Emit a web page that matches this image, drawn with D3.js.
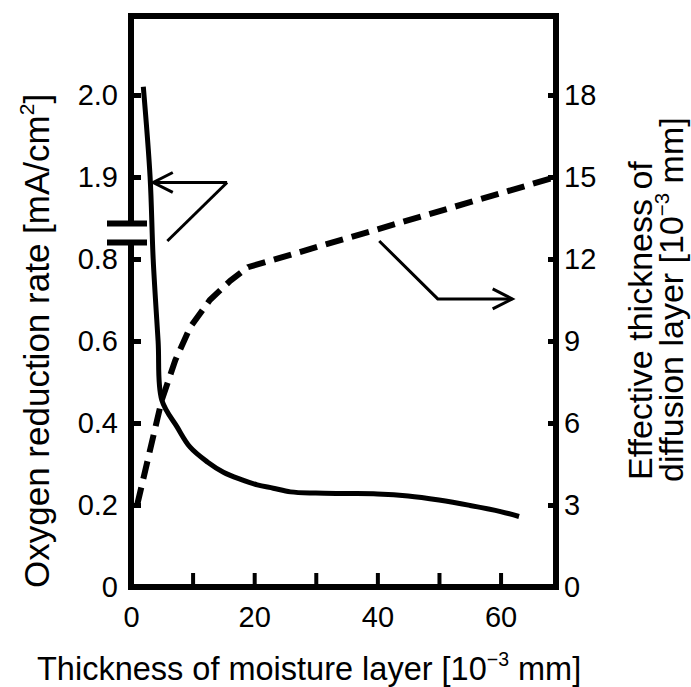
<!DOCTYPE html>
<html>
<head>
<meta charset="utf-8">
<script src="https://cdn.jsdelivr.net/npm/d3@7"></script>
<style>
  html, body { margin: 0; padding: 0; background: #fff; }
  svg { display: block; }
  text { font-family: "Liberation Sans", Arial, sans-serif; fill: #000; }
</style>
</head>
<body>
<svg id="chart" width="691" height="687"></svg>
<script>
// Oxygen reduction rate [mA/cm2] (left axis, solid) and effective thickness of the
// diffusion layer [10^-3 mm] (right axis, dashed) against moisture layer thickness.
const rateX = [2.0, 3.1, 3.6, 4.4, 5.0, 7.5, 9.6, 12.4, 15.0, 17.7, 20.5, 23.1, 25.9, 30, 35, 40, 45, 50, 55, 60, 63];
const rateY = [2.01, 1.9, 0.8, 0.6, 0.456, 0.39, 0.341, 0.305, 0.28, 0.263, 0.249, 0.241, 0.232, 0.229, 0.228, 0.227, 0.222, 0.212, 0.199, 0.184, 0.172];
const thickX = [1.0, 5.0, 7.2, 9.6, 12.8, 16.1, 19.0, 69];
const thickY = [3.0, 6.84, 8.3, 9.5, 10.5, 11.2, 11.7, 15.0];

const xTicks = [0, 10, 20, 30, 40, 50, 60];
const xTickLabels = [0, 20, 40, 60];
const leftTicks = [0, 0.2, 0.4, 0.6, 0.8, 1.9, 2.0];
const rightTicks = [0, 3, 6, 9, 12, 15, 18];

// Pointer arrows, in (x, right-axis) units: first one points at the solid curve, second at the right axis
const arrowToRate = [[15.6, 14.8], [3.6, 14.8]];
const arrowToRateTail = [[5.9, 12.66], [15.6, 14.8]];
const arrowToThick = [[40.3, 12.66], [49.8, 10.54], [61.9, 10.54]];

const svg = d3.select("#chart");
const frameTop = 16;

const x = d3.scaleLinear().domain([0, 69]).range([131, 556]);
const yR = d3.scaleLinear().domain([0, 18]).range([587, 95]);
// Left axis is broken between 0.8 and 1.9
const yL = d3.scaleLinear().domain([0, 0.8, 1.9, 2.0]).range([yR(0), yR(12), yR(15), yR(18)]);

const x0 = x.range()[0], x1 = x.range()[1], yBottom = yR(0);
const breakMid = yR(12.95), breakHalf = 9.5;

// Frame with a gap in the left axis at the break
svg.append("path")
  .attr("d", `M${x0},${breakMid - breakHalf} V${frameTop} H${x1} V${yBottom} H${x0} V${breakMid + breakHalf}`)
  .attr("fill", "none").attr("stroke", "#000").attr("stroke-width", 6)
  .attr("stroke-linejoin", "miter");

// Break marks
svg.selectAll("line.brk").data([breakMid - breakHalf, breakMid + breakHalf]).join("line")
  .attr("class", "brk")
  .attr("x1", x0 - 24).attr("x2", x0 + 16)
  .attr("y1", d => d).attr("y2", d => d)
  .attr("stroke", "#000").attr("stroke-width", 6);

function styleAxis(g, size) {
  g.select(".domain").remove();
  g.selectAll(".tick line").attr("stroke", "#000").attr("stroke-width", 5);
  g.selectAll(".tick text").attr("font-size", size).attr("font-family", null).attr("fill", "#000");
}

svg.append("g").attr("transform", `translate(${x0},0)`)
  .call(d3.axisLeft(yL).tickValues(leftTicks).tickSize(-10).tickPadding(13)
    .tickFormat(d => d === 0 ? "0" : d.toFixed(1)))
  .call(g => styleAxis(g, 29));

svg.append("g").attr("transform", `translate(${x1},0)`)
  .call(d3.axisRight(yR).tickValues(rightTicks).tickSize(-8).tickPadding(8))
  .call(g => styleAxis(g, 29));

svg.append("g").attr("transform", `translate(0,${yBottom})`)
  .call(d3.axisBottom(x).tickValues(xTicks).tickSize(-14).tickPadding(19)
    .tickFormat(d => xTickLabels.includes(d) ? d : ""))
  .call(g => styleAxis(g, 29))
  .call(g => g.selectAll(".tick line").attr("stroke-width", 4));

// Oxygen reduction rate (solid)
const rateLine = d3.line().x(d => x(d[0])).y(d => yL(d[1])).curve(d3.curveCatmullRom.alpha(0.5));
svg.append("path")
  .attr("d", rateLine(rateX.map((v, i) => [v, rateY[i]])))
  .attr("fill", "none").attr("stroke", "#000").attr("stroke-width", 5);

// Effective diffusion layer thickness (dashed)
const thickLine = d3.line().x(d => x(d[0])).y(d => yR(d[1]));
svg.append("path")
  .attr("d", thickLine(thickX.map((v, i) => [v, thickY[i]])))
  .attr("fill", "none").attr("stroke", "#000").attr("stroke-width", 6)
  .attr("stroke-dasharray", "18,9");

// Annotation arrows
const pt = d => [x(d[0]), yR(d[1])];
function arrow(points) {
  const p = points.map(pt);
  svg.append("path").attr("d", d3.line()(p))
    .attr("fill", "none").attr("stroke", "#000").attr("stroke-width", 3);
  const [a, b] = [p[p.length - 2], p[p.length - 1]];
  const ang = Math.atan2(b[1] - a[1], b[0] - a[0]);
  const L = 22, spread = 27 * Math.PI / 180;
  const barbs = [ang + Math.PI - spread, ang + Math.PI + spread]
    .map(t => [b[0] + L * Math.cos(t), b[1] + L * Math.sin(t)]);
  svg.append("path").attr("d", d3.line()([barbs[0], b, barbs[1]]))
    .attr("fill", "none").attr("stroke", "#000").attr("stroke-width", 3)
    .attr("stroke-linejoin", "miter");
}
arrow(arrowToRate);
svg.append("path").attr("d", d3.line()(arrowToRateTail.map(pt)))
  .attr("fill", "none").attr("stroke", "#000").attr("stroke-width", 3);
arrow(arrowToThick);

// Axis titles
function title(parts, transform, size) {
  const t = svg.append("text").attr("transform", transform).attr("font-size", size);
  parts.forEach(p => {
    const s = t.append("tspan").text(p.text);
    if (p.sup) s.attr("font-size", size * 0.6).attr("dy", -size * 0.42);
    if (p.after) s.attr("dy", size * 0.42);
  });
}
title([{ text: "Thickness of moisture layer [10" }, { text: "\u22123", sup: true }, { text: " mm]", after: true }],
  "translate(37,680)", 32.5);
title([{ text: "Oxygen reduction rate [mA/cm" }, { text: "2", sup: true }, { text: "]", after: true }],
  "translate(49,588) rotate(-90)", 35);
title([{ text: "Effective thickness of" }], "translate(652,480) rotate(-90)", 34);
title([{ text: "diffusion layer [10" }, { text: "\u22123", sup: true }, { text: " mm]", after: true }],
  "translate(683,482) rotate(-90)", 34);
</script>
</body>
</html>
